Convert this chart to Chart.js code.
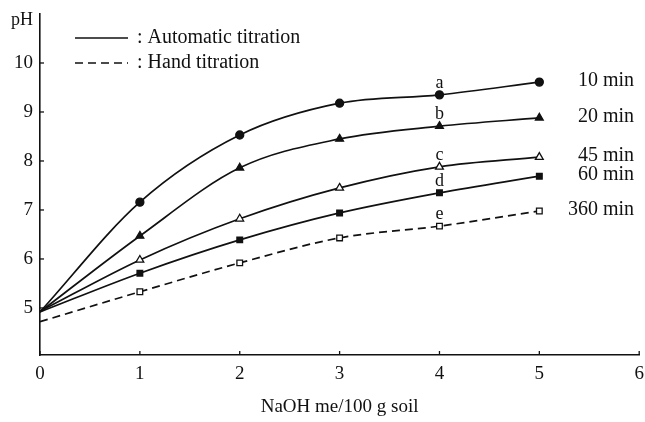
<!DOCTYPE html>
<html><head><meta charset="utf-8">
<script src="https://cdn.jsdelivr.net/npm/chart.js@4"></script>
<style>html,body{margin:0;padding:0;background:#fff}#wrap{width:645px;height:422px}</style>
</head><body><div id="wrap"><canvas id="c" width="645" height="422"></canvas></div>
<script>
const xValues = [0, 1, 2, 3, 4, 5];
const ph10min  = [4.92, 7.16, 8.53, 9.18, 9.35, 9.61];
const ph20min  = [4.92, 6.47, 7.86, 8.45, 8.71, 8.88];
const ph45min  = [4.93, 5.98, 6.82, 7.45, 7.88, 8.08];
const ph60min  = [4.92, 5.71, 6.39, 6.94, 7.35, 7.69];
const ph360min = [4.72, 5.33, 5.92, 6.43, 6.67, 6.98];
const seriesNames = ['10 min', '20 min', '45 min', '60 min', '360 min'];
const seriesLetters = ['a', 'b', 'c', 'd', 'e'];
const xTicks = [0, 1, 2, 3, 4, 5, 6];
const yTicks = [5, 6, 7, 8, 9, 10];
const legendLabels = [': Automatic titration', ': Hand titration'];

const FONT = '"Liberation Serif", "DejaVu Serif", serif';
const allSeries = [ph10min, ph20min, ph45min, ph60min, ph360min];
const styles = [
  {pointStyle:'circle', fill:'#111', dash:[], r:4},
  {pointStyle:'triangle', fill:'#111', dash:[], r:4.5},
  {pointStyle:'triangle', fill:'#fff', dash:[], r:4.5},
  {pointStyle:'rect', fill:'#111', dash:[], r:4},
  {pointStyle:'rect', fill:'#fff', dash:[8,5], r:4}
];
const datasets = allSeries.map((vals, i) => ({
  label: seriesNames[i],
  data: xValues.map((x, j) => ({x, y: vals[j]})),
  borderColor: '#111',
  borderWidth: 1.7,
  borderDash: styles[i].dash,
  pointStyle: styles[i].pointStyle,
  backgroundColor: styles[i].fill,
  pointBackgroundColor: styles[i].fill,
  pointBorderColor: '#111',
  pointBorderWidth: 1.3,
  pointRadius: xValues.map(x => x === 0 ? 0 : styles[i].r),
  cubicInterpolationMode: 'monotone',
  tension: 0.4
}));

const annot = {
  id: 'annot',
  afterDraw(chart) {
    const ctx = chart.ctx, xs = chart.scales.x, ys = chart.scales.y;
    ctx.save();
    ctx.fillStyle = '#111';
    ctx.strokeStyle = '#111';
    // inward ticks
    ctx.lineWidth = 1.3;
    xTicks.forEach(t => { const px = xs.getPixelForValue(t); ctx.beginPath(); ctx.moveTo(px, ys.bottom); ctx.lineTo(px, ys.bottom - 4); ctx.stroke(); });
    yTicks.forEach(t => { const py = ys.getPixelForValue(t); ctx.beginPath(); ctx.moveTo(xs.left, py); ctx.lineTo(xs.left + 4, py); ctx.stroke(); });
    // pH label
    ctx.font = '18px ' + FONT;
    ctx.textAlign = 'left'; ctx.textBaseline = 'middle';
    ctx.fillText('pH', 11, 20);
    // legend
    ctx.font = '20px ' + FONT;
    ctx.lineWidth = 1.6;
    ctx.beginPath(); ctx.moveTo(75, 38); ctx.lineTo(128, 38); ctx.stroke();
    ctx.setLineDash([8,5]);
    ctx.beginPath(); ctx.moveTo(75, 63); ctx.lineTo(128, 63); ctx.stroke();
    ctx.setLineDash([]);
    ctx.fillText(legendLabels[0], 137, 38);
    ctx.fillText(legendLabels[1], 137, 63);
    // letters and names
    allSeries.forEach((vals, i) => {
      const px = xs.getPixelForValue(xValues[4]);
      const py = ys.getPixelForValue(vals[4]);
      ctx.font = '18px ' + FONT;
      ctx.textAlign = 'center'; ctx.textBaseline = 'alphabetic';
      ctx.fillText(seriesLetters[i], px, py - 7);
      const ey = ys.getPixelForValue(vals[5]);
      ctx.font = '20px ' + FONT;
      ctx.textAlign = 'right'; ctx.textBaseline = 'middle';
      ctx.fillText(seriesNames[i], 634, ey - 1);
    });
    ctx.restore();
  }
};

new Chart(document.getElementById('c'), {
  type: 'line',
  data: { datasets },
  options: {
    responsive: false,
    animation: false,
    devicePixelRatio: 1,
    layout: { padding: { top: 14, right: 5, left: 0, bottom: 0 } },
    plugins: { legend: { display: false }, tooltip: { enabled: false } },
    scales: {
      x: {
        type: 'linear', min: 0, max: 6,
        afterBuildTicks: s => { s.ticks = xTicks.map(v => ({value: v})); },
        grid: { display: false, drawTicks: false },
        border: { display: true, color: '#111', width: 1.6 },
        ticks: { color: '#111', font: { family: FONT, size: 19 }, padding: 8 },
        title: { display: true, text: 'NaOH me/100 g soil', color: '#111', font: { family: FONT, size: 19 }, padding: { top: 8 } },
        afterFit: s => { s.height = 67; s.paddingRight = 0; s.paddingLeft = 0; }
      },
      y: {
        type: 'linear', min: 4.04, max: 11,
        afterBuildTicks: s => { s.ticks = yTicks.map(v => ({value: v})); },
        grid: { display: false, drawTicks: false },
        border: { display: true, color: '#111', width: 1.6 },
        ticks: { color: '#111', font: { family: FONT, size: 19 }, padding: 7 },
        afterFit: s => { s.width = 40; s.paddingTop = 0; s.paddingBottom = 0; }
      }
    }
  },
  plugins: [annot]
});
</script>
</body></html>
